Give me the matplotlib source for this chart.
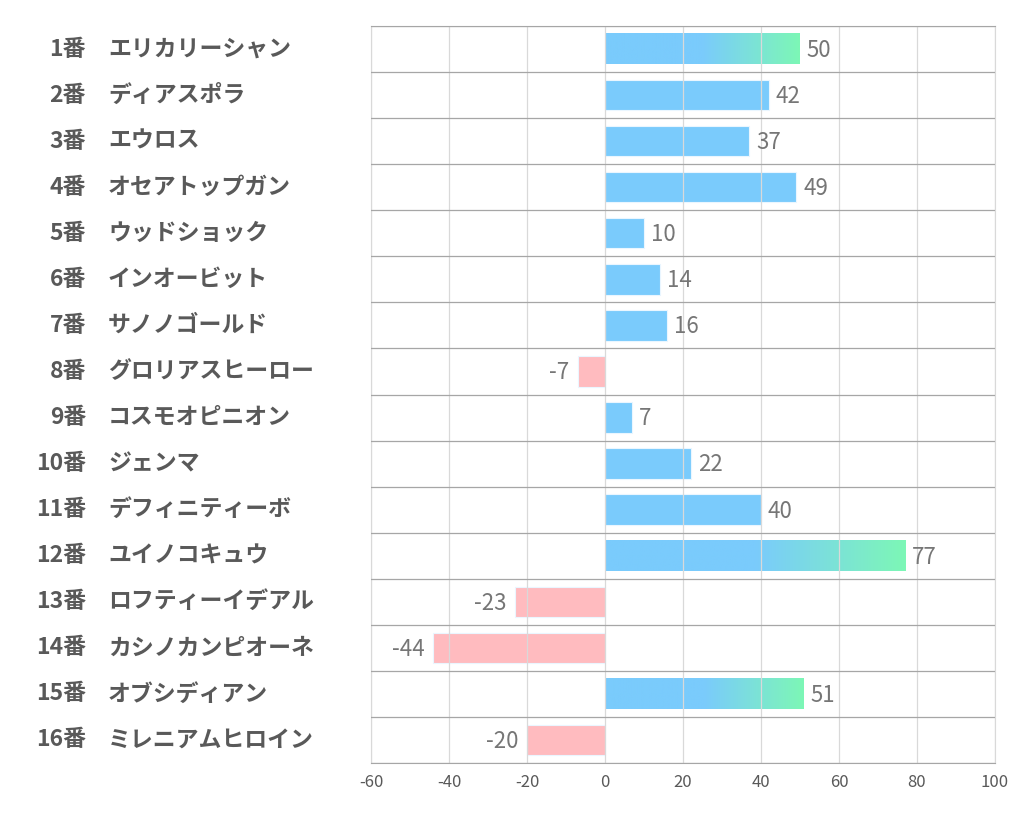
import numpy as np
import matplotlib
matplotlib.use('Agg')
import matplotlib.pyplot as plt
import matplotlib.transforms as mtransforms
from matplotlib.colors import LinearSegmentedColormap

plt.rcParams["font.family"] = ["Noto Sans CJK JP", "DejaVu Sans"]
plt.rcParams["axes.unicode_minus"] = False

# data
numbers = ["1番", "2番", "3番", "4番", "5番", "6番", "7番", "8番",
           "9番", "10番", "11番", "12番", "13番", "14番", "15番", "16番"]
names = ["エリカリーシャン", "ディアスポラ", "エウロス", "オセアトップガン",
         "ウッドショック", "インオービット", "サノノゴールド", "グロリアスヒーロー",
         "コスモオピニオン", "ジェンマ", "デフィニティーボ", "ユイノコキュウ",
         "ロフティーイデアル", "カシノカンピオーネ", "オブシディアン", "ミレニアムヒロイン"]
values = [50, 42, 37, 49, 10, 14, 16, -7, 7, 22, 40, 77, -23, -44, 51, -20]

blue = "#7ACBFC"
green = "#7DF7B6"
pink = "#FFBBBF"
bar_h = 0.66
grad_cmap = LinearSegmentedColormap.from_list("bg", [(0, blue), (0.5, blue), (1, green)])

fig = plt.figure(figsize=(10.22, 8.34), dpi=100)
ax = fig.add_axes([371 / 1022, 1 - 763 / 834, 624 / 1022, 737 / 834])

y = np.arange(len(values))
for yi, v in zip(y, values):
    if v >= 50:
        grad = np.linspace(0, 1, 256).reshape(1, -1)
        ax.imshow(grad, cmap=grad_cmap, aspect="auto", zorder=2,
                  extent=(0, v, yi + bar_h / 2, yi - bar_h / 2))
    else:
        ax.barh(yi, v, height=bar_h, color=pink if v < 0 else blue,
                edgecolor="#EAF6FF", linewidth=0.8, zorder=2)
    if v >= 0:
        ax.annotate(str(v), (v, yi), xytext=(5, -1), textcoords="offset points",
                    ha="left", va="center", fontsize=16, color="#767676")
    else:
        ax.annotate(str(v), (v, yi), xytext=(-6, -1), textcoords="offset points",
                    ha="right", va="center", fontsize=16, color="#767676")

ax.set_xlim(-60, 100)
ax.set_ylim(len(values) - 0.5, -0.5)
ax.set_xticks(np.arange(-60, 101, 20))
ax.tick_params(axis="x", length=0, labelsize=12, labelcolor="#595959", pad=8)
ax.set_yticks([])
ax.set_yticks(np.arange(-0.5, len(values)), minor=True)
ax.tick_params(axis="y", which="both", length=0)
ax.grid(True, axis="x", color="#D9D9D9", linewidth=0.9, zorder=3)
ax.grid(True, axis="y", which="minor", color="#A6A6A6", linewidth=0.9, zorder=1)
ax.set_axisbelow(False)
for side in ["left", "right"]:
    ax.spines[side].set_color("#D9D9D9")
for side in ["top", "bottom"]:
    ax.spines[side].set_color("#A6A6A6")

# row labels at the left
trans = mtransforms.blended_transform_factory(fig.transFigure, ax.transData)
for yi, num, nm in zip(y, numbers, names):
    fig.text(86 / 1022, yi, num, transform=trans, ha="right", va="center",
             fontsize=16.5, fontweight="bold", color="#595959")
    fig.text(108 / 1022, yi, nm, transform=trans, ha="left", va="center",
             fontsize=16.5, fontweight="bold", color="#595959")

fig.patch.set_facecolor("white")
fig.savefig("out.png", dpi=100)
plt.close(fig)
